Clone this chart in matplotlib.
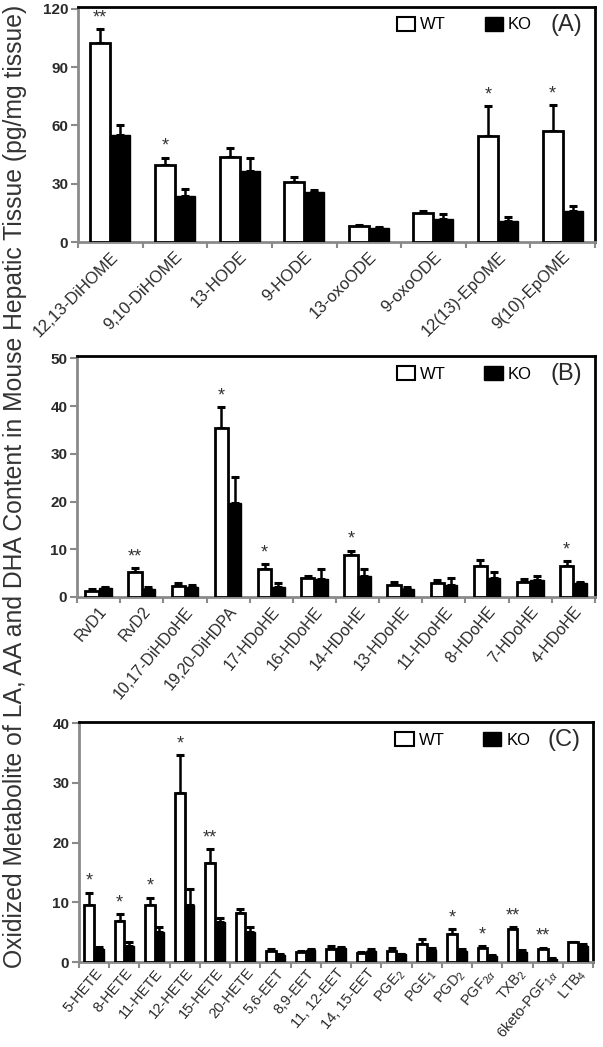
import matplotlib
matplotlib.use("Agg")
import matplotlib.pyplot as plt
import matplotlib.transforms as mtransforms
import numpy as np
from matplotlib.patches import Patch

plt.rcParams['font.family'] = ['Liberation Sans', 'DejaVu Sans']
plt.rcParams['mathtext.fontset'] = 'custom'
plt.rcParams['mathtext.rm'] = 'Liberation Sans'
plt.rcParams['mathtext.it'] = 'Liberation Sans:italic'

# ---------------- data ----------------
cats_A = ['12,13-DiHOME', '9,10-DiHOME', '13-HODE', '9-HODE', '13-oxoODE',
          '9-oxoODE', '12(13)-EpOME', '9(10)-EpOME']
wt_A = [102.5, 39.5, 44.0, 31.0, 8.0, 15.0, 54.5, 57.0]
wt_A_err = [7.0, 4.0, 4.5, 2.5, 1.0, 1.0, 15.5, 13.5]
ko_A = [55.0, 23.5, 36.5, 26.0, 7.0, 12.0, 11.0, 16.0]
ko_A_err = [5.5, 4.0, 6.5, 0.8, 0.5, 2.2, 2.0, 2.7]
sig_A = ['**', '*', '', '', '', '', '*', '*']
yticks_A = [0, 30, 60, 90, 120]

cats_B = ['RvD1', 'RvD2', '10,17-DiHDoHE', '19,20-DiHDPA', '17-HDoHE', '16-HDoHE',
          '14-HDoHE', '13-HDoHE', '11-HDoHE', '8-HDoHE', '7-HDoHE', '4-HDoHE']
wt_B = [1.3, 5.3, 2.4, 35.5, 5.8, 4.0, 8.7, 2.6, 3.0, 6.5, 3.2, 6.5]
wt_B_err = [0.3, 0.8, 0.6, 4.3, 1.1, 0.5, 1.0, 0.5, 0.5, 1.3, 0.5, 1.0]
ko_B = [1.8, 1.7, 2.1, 19.8, 2.0, 3.7, 4.3, 1.6, 2.6, 4.0, 3.5, 3.0]
ko_B_err = [0.3, 0.3, 0.5, 5.4, 1.0, 2.1, 1.5, 0.5, 1.4, 1.3, 0.8, 0.2]
sig_B = ['', '**', '', '*', '*', '', '*', '', '', '', '', '*']
yticks_B = [0, 10, 20, 30, 40, 50]

cats_C = ['5-HETE', '8-HETE', '11-HETE', '12-HETE', '15-HETE', '20-HETE', '5,6-EET',
          '8,9-EET', '11, 12-EET', '14, 15-EET', r'PGE$_2$', r'PGE$_1$', r'PGD$_2$',
          r'PGF$_{2\alpha}$', r'TXB$_2$', r'6keto-PGF$_{1\alpha}$', r'LTB$_4$']
wt_C = [9.5, 6.9, 9.6, 28.3, 16.6, 8.2, 1.8, 1.7, 2.2, 1.5, 1.8, 3.0, 4.7, 2.3, 5.5, 2.2, 3.3]
wt_C_err = [2.1, 1.1, 1.2, 6.3, 2.3, 0.6, 0.3, 0.2, 0.4, 0.2, 0.5, 0.8, 0.8, 0.4, 0.3, 0.2, 0.1]
ko_C = [2.1, 2.7, 5.1, 9.6, 6.7, 5.0, 1.2, 2.0, 2.3, 1.9, 1.3, 2.0, 1.9, 1.0, 1.7, 0.5, 2.7]
ko_C_err = [0.4, 0.6, 0.8, 2.6, 0.7, 0.9, 0.2, 0.1, 0.2, 0.2, 0.1, 0.3, 0.3, 0.1, 0.3, 0.1, 0.3]
sig_C = ['*', '*', '*', '*', '**', '', '', '', '', '', '', '', '*', '*', '**', '**', '']
yticks_C = [0, 10, 20, 30, 40]

ylabel = 'Oxidized Metabolite of LA, AA and DHA Content in Mouse Hepatic Tissue (pg/mg tissue)'

# ---------------- figure ----------------
W, H = 603, 1047
fig = plt.figure(figsize=(W / 100, H / 100), dpi=100)


def px_axes(l, r, t, b):
    return fig.add_axes([l / W, 1 - b / H, (r - l) / W, (b - t) / H])


GRAY = '#8a8a8a'
TXT = '#2a2a2a'


def panel(ax, cats, wt, wte, ko, koe, sig, yticks, ymax, tag, rot, xfs, bw, xshift, pad):
    n = len(cats)
    x = np.arange(n)
    ax.bar(x - bw / 2, wt, bw, facecolor='white', edgecolor='black', linewidth=2.0, zorder=3)
    ax.bar(x + bw / 2, ko, bw, facecolor='black', edgecolor='black', linewidth=1.0, zorder=3)
    ax.errorbar(x - bw / 2, wt, yerr=[np.zeros(n), wte], fmt='none', ecolor='black',
                elinewidth=1.8, capsize=3, capthick=2.2, zorder=2)
    ax.errorbar(x + bw / 2, ko, yerr=[np.zeros(n), koe], fmt='none', ecolor='black',
                elinewidth=1.8, capsize=3, capthick=2.2, zorder=2)
    for i, s in enumerate(sig):
        if s:
            ax.annotate(s, (x[i] - bw / 2, wt[i] + wte[i]), xytext=(0, 2.0),
                        textcoords='offset points', ha='center', va='bottom',
                        fontsize=13, color='#333333')
    ax.set_xlim(-0.5, n - 0.5)
    ax.set_ylim(0, ymax)
    ax.set_yticks(yticks)
    ax.set_yticklabels([str(v) for v in yticks], fontsize=11, fontweight='bold', color=TXT)
    ax.set_xticks(x)
    labs = ax.set_xticklabels(cats, rotation=rot, ha='right', va='top', rotation_mode='anchor',
                              fontsize=xfs, color=TXT)
    off = mtransforms.ScaledTranslation(xshift / 72, 0, fig.dpi_scale_trans)
    for t in labs:
        t.set_transform(t.get_transform() + off)
    ax.set_xticks(np.arange(n + 1) - 0.5, minor=True)
    ax.tick_params(axis='x', which='major', length=0, pad=pad)
    ax.tick_params(axis='x', which='minor', length=4, width=1.5, color=GRAY)
    ax.tick_params(axis='y', length=5, width=1.5, color=GRAY, pad=2)
    for side in ['left', 'bottom']:
        ax.spines[side].set_color(GRAY)
        ax.spines[side].set_linewidth(2.0)
    for side in ['top', 'right']:
        ax.spines[side].set_color('black')
        ax.spines[side].set_linewidth(2.0)
    handles = [Patch(facecolor='white', edgecolor='black', linewidth=1.5),
               Patch(facecolor='black', edgecolor='black')]
    ax.legend(handles, ['WT', 'KO'], ncol=2, loc='center right',
              bbox_to_anchor=(0.878, 0.925), frameon=False, handlelength=1.1,
              handleheight=0.9, handletextpad=0.3, columnspacing=2.3, fontsize=12,
              borderpad=0, borderaxespad=0)
    ax.text(0.975, 0.925, tag, transform=ax.transAxes, ha='right', va='center',
            fontsize=17, color=TXT)


axA = px_axes(78, 595, 7, 242)
panel(axA, cats_A, wt_A, wt_A_err, ko_A, ko_A_err, sig_A, yticks_A, 121, '(A)', 45, 12, 0.31, 6, 5)

axB = px_axes(77, 595, 356, 597)
panel(axB, cats_B, wt_B, wt_B_err, ko_B, ko_B_err, sig_B, yticks_B, 50.5, '(B)', 50, 11.5, 0.31, 4, 5)

axC = px_axes(79, 593, 722, 962)
panel(axC, cats_C, wt_C, wt_C_err, ko_C, ko_C_err, sig_C, yticks_C, 40.2, '(C)', 50, 10.5, 0.32, 4, 3)

fig.text(0.025, 0.535, ylabel, rotation=90, ha='center', va='center', fontsize=17.8, color='#333333')

fig.savefig('out.png', dpi=100)
